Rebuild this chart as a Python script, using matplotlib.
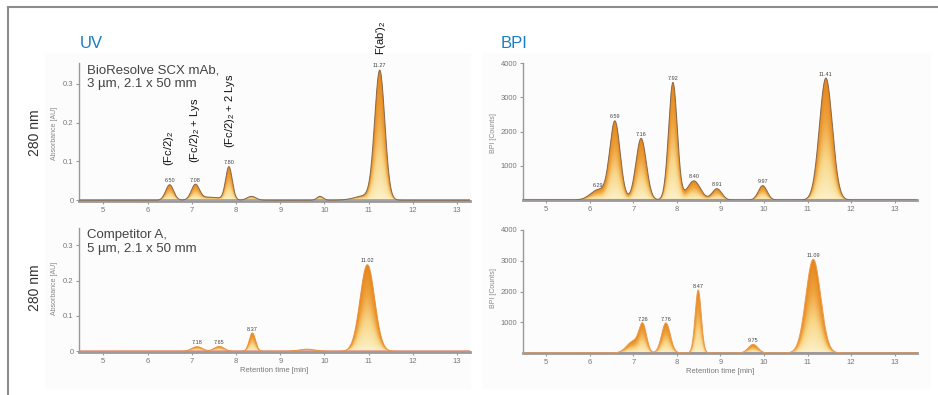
import numpy as np
import matplotlib.pyplot as plt
from matplotlib.colors import LinearSegmentedColormap
from matplotlib.patches import Polygon, Rectangle
from matplotlib.lines import Line2D

plt.rcParams['font.family'] = ['Liberation Sans', 'DejaVu Sans']
plt.rcParams['mathtext.fontset'] = 'custom'
plt.rcParams['mathtext.rm'] = 'Liberation Sans'
plt.rcParams['mathtext.it'] = 'Liberation Sans'

# UV 280 nm, BioResolve SCX mAb
uv_top_rt = [6.50, 7.08, 7.40, 7.84, 8.35, 9.90, 10.95, 11.25]
uv_top_h = [0.040, 0.038, 0.008, 0.085, 0.010, 0.010, 0.012, 0.330]
uv_top_w = [0.09, 0.09, 0.25, 0.075, 0.10, 0.07, 0.25, 0.115]
uv_top_lab_rt = [6.50, 7.08, 7.84, 11.25]
uv_top_lab = ['6.50', '7.08', '7.80', '11.27']

# UV 280 nm, Competitor A
uv_bot_rt = [7.12, 7.62, 8.37, 9.60, 10.97]
uv_bot_h = [0.013, 0.014, 0.052, 0.006, 0.245]
uv_bot_w = [0.12, 0.11, 0.07, 0.18, 0.165]
uv_bot_lab_rt = [7.12, 7.62, 8.37, 10.97]
uv_bot_lab = ['7.18', '7.65', '8.37', '11.02']

# BPI, BioResolve SCX mAb
bpi_top_rt = [6.20, 6.58, 7.18, 7.91, 8.39, 8.92, 9.97, 11.42]
bpi_top_h = [300, 2280, 1800, 3430, 560, 330, 420, 3560]
bpi_top_w = [0.18, 0.12, 0.12, 0.10, 0.15, 0.11, 0.10, 0.15]
bpi_top_lab = ['6.29', '6.59', '7.16', '7.92', '8.40', '8.91', '9.97', '11.41']

# BPI, Competitor A
bpi_bot_rt = [7.00, 7.22, 7.75, 8.49, 9.75, 11.13]
bpi_bot_h = [380, 850, 980, 2050, 280, 3050]
bpi_bot_w = [0.15, 0.085, 0.10, 0.07, 0.11, 0.17]
bpi_bot_lab_rt = [7.22, 7.75, 8.49, 9.75, 11.13]
bpi_bot_lab = ['7.26', '7.76', '8.47', '9.75', '11.09']

W, H = 938, 395
fig = plt.figure(figsize=(W / 100, H / 100), dpi=100)

def fx(px):
    return px / W

def fy(py):
    return 1 - py / H

# hintergrund + rahmen
fig.add_artist(Rectangle((fx(45), fy(388)), fx(425), fy(53) - fy(388), transform=fig.transFigure,
                         color='#fcfcfc', zorder=-5))
fig.add_artist(Rectangle((fx(483), fy(388)), fx(447), fy(53) - fy(388), transform=fig.transFigure,
                         color='#fcfcfc', zorder=-5))
fig.add_artist(Line2D([fx(8), fx(8)], [0, fy(7)], transform=fig.transFigure, color='#8c8c8c', lw=1.5))
fig.add_artist(Line2D([fx(8), 1], [fy(7), fy(7)], transform=fig.transFigure, color='#8c8c8c', lw=1.5))

cmap = LinearSegmentedColormap.from_list('peak', ['#fcf1c8', '#f8d78a', '#eea23c', '#e5841a'])


def curve(x, rts, hs, ws):
    y = np.zeros_like(x)
    for r, h, w in zip(rts, hs, ws):
        y += h * np.exp(-0.5 * ((x - r) / w) ** 2)
    return y


def trace(ax, rts, hs, ws, xlim, edge):
    x = np.linspace(xlim[0], xlim[1], 1500)
    y = curve(x, rts, hs, ws)
    ytop = max(hs) * 1.05
    verts = np.column_stack([np.r_[x, x[::-1]], np.r_[y, np.zeros_like(y)]])
    patch = Polygon(verts, closed=True, facecolor='none', edgecolor='none')
    ax.add_patch(patch)
    yy = np.linspace(0, ytop, 300)
    Z = np.clip(yy[:, None] / np.maximum(y[None, :], 1e-9), 0, 1)
    im = ax.imshow(Z, extent=[x[0], x[-1], 0, ytop], origin='lower', aspect='auto',
                   cmap=cmap, vmin=0, vmax=1, interpolation='bilinear', zorder=1)
    im.set_clip_path(patch)
    ax.plot(x, np.full_like(x, ytop * 0.004), color='#df8585', lw=0.8, zorder=2)
    ax.plot(x, y, color=edge, lw=0.7, zorder=3)


def style(ax, xlim, ylim, yticks, yticklabels, xlabel=False):
    ax.set_xlim(*xlim)
    ax.set_ylim(*ylim)
    ax.set_facecolor('none')
    for s in ['top', 'right']:
        ax.spines[s].set_visible(False)
    ax.spines['left'].set_color('#999999')
    ax.spines['left'].set_linewidth(1.0)
    ax.spines['bottom'].set_color('#9a9a9a')
    ax.spines['bottom'].set_linewidth(2.0)
    ax.set_xticks(range(5, 14))
    ax.set_yticks(yticks)
    ax.set_yticklabels(yticklabels)
    ax.tick_params(labelsize=5.5, colors='#999999', labelcolor='#777777', length=2, width=0.8, pad=2)
    if xlabel:
        ax.set_xlabel('Retention time [min]', fontsize=5.5, color='#777777', labelpad=2)


uv_xlim = (4.45, 13.29)
bpi_xlim = (4.47, 13.51)

ax1 = fig.add_axes([fx(79), fy(201), fx(391), fy(63) - fy(201)])
ax2 = fig.add_axes([fx(79), fy(352), fx(391), fy(228) - fy(352)])
ax3 = fig.add_axes([fx(523), fy(200), fx(394), fy(63) - fy(200)])
ax4 = fig.add_axes([fx(523), fy(353), fx(394), fy(230) - fy(353)])

trace(ax1, uv_top_rt, uv_top_h, uv_top_w, uv_xlim, '#86684a')
trace(ax2, uv_bot_rt, uv_bot_h, uv_bot_w, uv_xlim, '#e8913a')
trace(ax3, bpi_top_rt, bpi_top_h, bpi_top_w, bpi_xlim, '#86684a')
trace(ax4, bpi_bot_rt, bpi_bot_h, bpi_bot_w, bpi_xlim, '#ec9a50')

uv_ticks = [0, 0.1, 0.2, 0.3]
uv_ticklabels = ['0', '0.1', '0.2', '0.3']
bpi_ticks = [1000, 2000, 3000, 4000]
bpi_ticklabels = ['1000', '2000', '3000', '4000']

style(ax1, uv_xlim, (-0.002, 0.354), uv_ticks, uv_ticklabels)
style(ax2, uv_xlim, (-0.002, 0.349), uv_ticks, uv_ticklabels, xlabel=True)
style(ax3, bpi_xlim, (0, 4000), bpi_ticks, bpi_ticklabels)
style(ax4, bpi_xlim, (0, 4000), bpi_ticks, bpi_ticklabels, xlabel=True)

# peak labels
def peak_labels(ax, rts, hs, ws, lab_rts, labs, off):
    for r, t in zip(lab_rts, labs):
        yv = curve(np.array([r]), rts, hs, ws)[0]
        ax.text(r, yv + off, t, fontsize=4, color='#444444', ha='center', va='bottom',
                clip_on=False, zorder=4)

peak_labels(ax1, uv_top_rt, uv_top_h, uv_top_w, uv_top_lab_rt, uv_top_lab, 0.004)
peak_labels(ax2, uv_bot_rt, uv_bot_h, uv_bot_w, uv_bot_lab_rt, uv_bot_lab, 0.004)
peak_labels(ax3, bpi_top_rt, bpi_top_h, bpi_top_w, bpi_top_rt, bpi_top_lab, 40)
peak_labels(ax4, bpi_bot_rt, bpi_bot_h, bpi_bot_w, bpi_bot_lab_rt, bpi_bot_lab, 40)

# species names (rotated)
species = [r'(Fc/2)$_2$', r'(Fc/2)$_2$ + Lys', r'(Fc/2)$_2$ + 2 Lys', r"F(ab')$_2$"]
species_rt = [6.48, 7.08, 7.86, 11.27]
species_y = [0.087, 0.097, 0.136, 0.374]
for r, yv, t in zip(species_rt, species_y, species):
    ax1.text(r, yv, t, rotation=90, fontsize=8, ha='center', va='bottom', color='#111111', clip_on=False)

# panel text
ax1.text(0.02, 0.99, 'BioResolve SCX mAb,\n3 µm, 2.1 x 50 mm', transform=ax1.transAxes, fontsize=9.5,
         color='#444444', va='top', ha='left', linespacing=1.15)
ax2.text(0.02, 0.99, 'Competitor A,\n5 µm, 2.1 x 50 mm', transform=ax2.transAxes, fontsize=9.5,
         color='#444444', va='top', ha='left', linespacing=1.15)

fig.text(fx(80), fy(43), 'UV', fontsize=12, color='#1b7dc3', va='center', ha='left')
fig.text(fx(501), fy(43), 'BPI', fontsize=12, color='#1b7dc3', va='center', ha='left')

for py in (133, 288):
    fig.text(fx(35), fy(py), '280 nm', rotation=90, fontsize=10, color='#333333', ha='center', va='center')
    fig.text(fx(54), fy(py), 'Absorbance [AU]', rotation=90, fontsize=5, color='#888888',
             ha='center', va='center')
    fig.text(fx(493), fy(py), 'BPI [Counts]', rotation=90, fontsize=5, color='#888888',
             ha='center', va='center')

fig.savefig('out.png', dpi=100)
